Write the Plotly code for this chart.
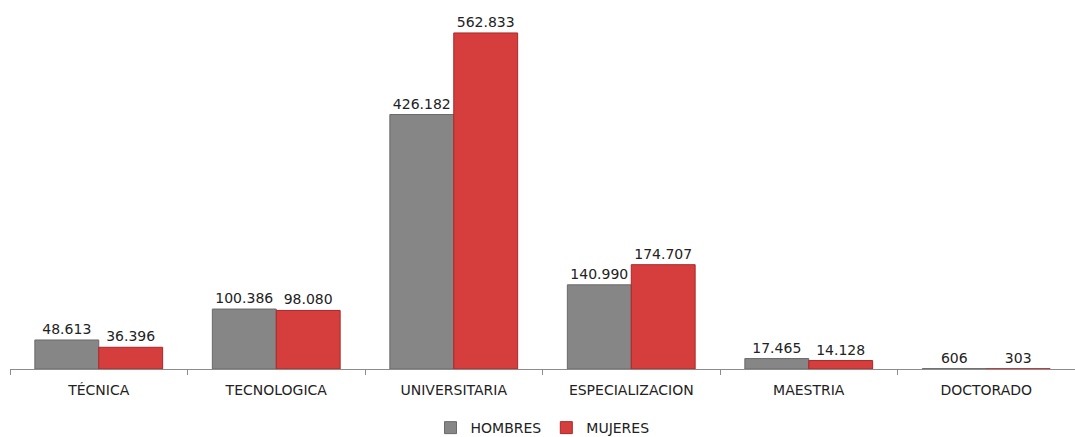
import plotly.graph_objects as go

categorias = ["TÉCNICA", "TECNOLOGICA", "UNIVERSITARIA", "ESPECIALIZACION", "MAESTRIA", "DOCTORADO"]
hombres = [48613, 100386, 426182, 140990, 17465, 606]
mujeres = [36396, 98080, 562833, 174707, 14128, 303]

label_font = dict(family="DejaVu Sans", size=14, color="#222222")

fig = go.Figure()
fig.add_trace(go.Bar(
    name="HOMBRES", x=categorias, y=hombres,
    marker=dict(color="#868686", line=dict(color="#6a6a6a", width=1)),
    texttemplate="%{y:,.0f}", textposition="outside",
    textfont=label_font, cliponaxis=False,
))
fig.add_trace(go.Bar(
    name="MUJERES", x=categorias, y=mujeres,
    marker=dict(color="#d63d3d", line=dict(color="#a82828", width=1)),
    texttemplate="%{y:,.0f}", textposition="outside",
    textfont=label_font, cliponaxis=False,
))

fig.update_layout(
    width=1075, height=437,
    margin=dict(l=10, r=0, t=0, b=68, autoexpand=False),
    paper_bgcolor="white", plot_bgcolor="white",
    separators=",.",
    barmode="group", bargap=0.28, bargroupgap=0,
    font=label_font,
    showlegend=True,
    legend=dict(orientation="h", x=0.5, xanchor="center", y=-0.16, yanchor="middle",
                font=dict(family="DejaVu Sans", size=14, color="#222222"),
                itemwidth=30, traceorder="normal"),
    xaxis=dict(showline=True, linecolor="#8c8c8c", linewidth=1, ticks="outside",
               tickson="boundaries", ticklen=5, tickcolor="#8c8c8c", automargin=False,
               ticklabelstandoff=8,
               tickfont=dict(family="DejaVu Sans", size=14, color="#222222"), showgrid=False),
    yaxis=dict(range=[0, 618000], visible=False, showgrid=False, zeroline=False, automargin=False),
)

fig.write_html("out.html", config={"displayModeBar": False},
               post_script="document.body.style.margin='0px';document.body.style.overflow='hidden';")
